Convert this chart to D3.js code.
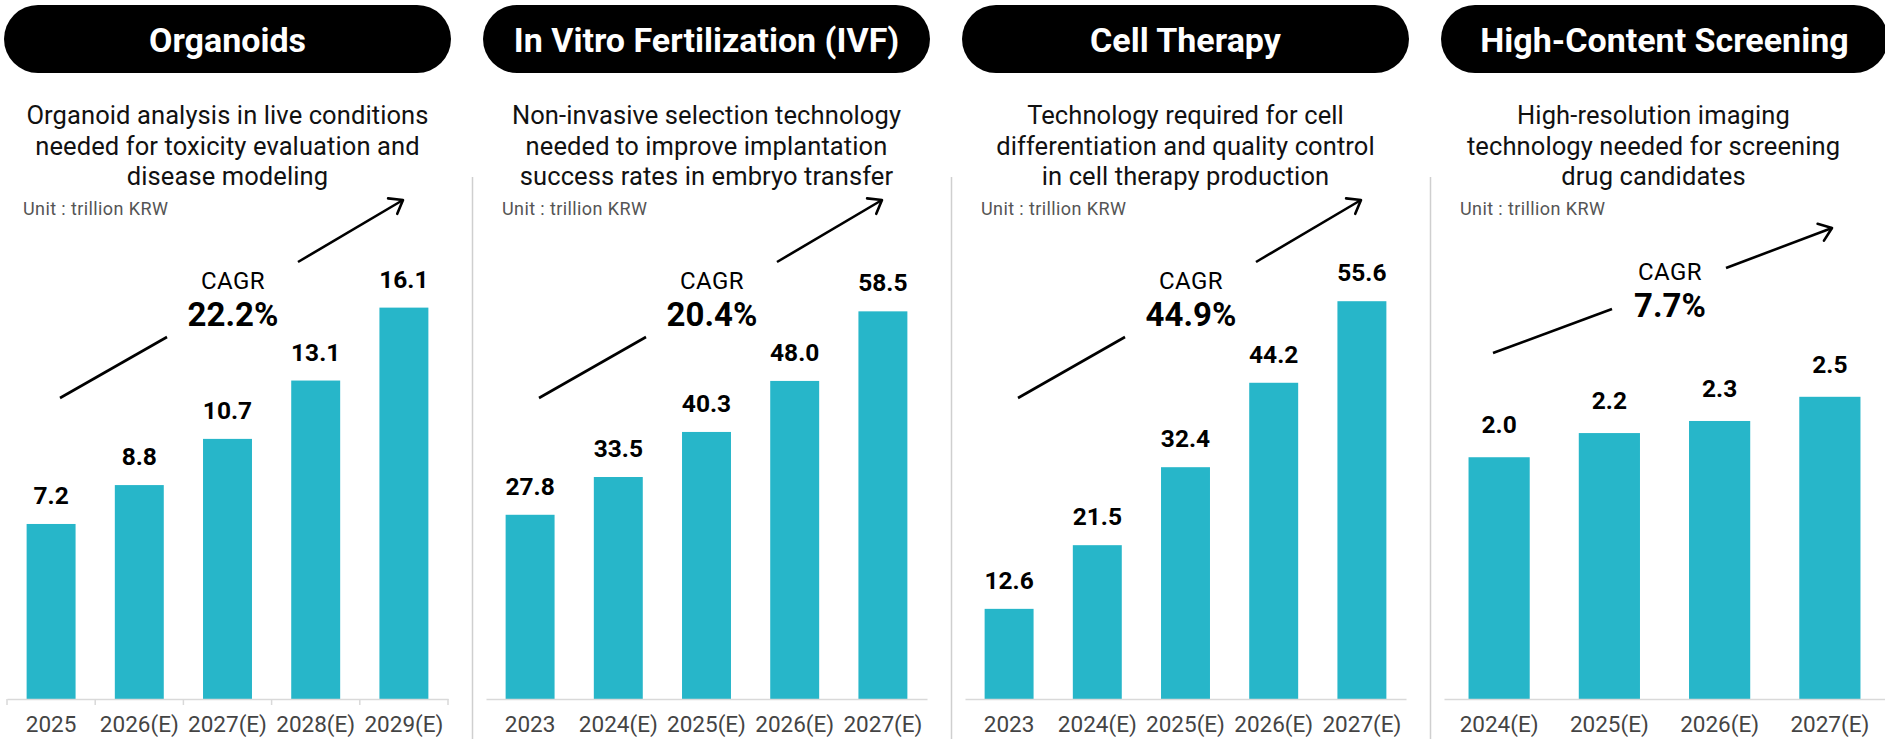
<!DOCTYPE html>
<html lang="en">
<head>
<meta charset="UTF-8">
<title>Market size by application</title>
<script src="https://d3js.org/d3.v7.min.js"></script>
<style>
    body {
        margin: 0;
        padding: 0;
        background: #fff;
        font-family: Roboto, "Noto Sans", Arial, sans-serif;
    }
    svg { display: block; }
</style>
</head>
<body>
<svg id="chart" width="1885" height="739"></svg>
<script>
// ---- data ----
const titles = ["Organoids", "In Vitro Fertilization (IVF)", "Cell Therapy", "High-Content Screening"];
const descriptions = [
    ["Organoid analysis in live conditions", "needed for toxicity evaluation and", "disease modeling"],
    ["Non-invasive selection technology", "needed to improve implantation", "success rates in embryo transfer"],
    ["Technology required for cell", "differentiation and quality control", "in cell therapy production"],
    ["High-resolution imaging", "technology needed for screening", "drug candidates"]
];
const unitLabel = "Unit : trillion KRW";
const cagrValues = ["22.2%", "20.4%", "44.9%", "7.7%"];

const organoidYears = ["2025", "2026(E)", "2027(E)", "2028(E)", "2029(E)"];
const organoidValues = [7.2, 8.8, 10.7, 13.1, 16.1];
const ivfYears = ["2023", "2024(E)", "2025(E)", "2026(E)", "2027(E)"];
const ivfValues = [27.8, 33.5, 40.3, 48.0, 58.5];
const cellYears = ["2023", "2024(E)", "2025(E)", "2026(E)", "2027(E)"];
const cellValues = [12.6, 21.5, 32.4, 44.2, 55.6];
const hcsYears = ["2024(E)", "2025(E)", "2026(E)", "2027(E)"];
const hcsValues = [2.0, 2.2, 2.3, 2.5];

// ---- layout ----
const svg = d3.select("#chart");
const panelW = 479;
const baseY = 699, topY = 259;
const barColor = "#27b6c9";

const panels = [
    { years: organoidYears, values: organoidValues, yMax: 18.1, ticks: true,  labelGap: 20,
      arrow: [[60, 398, 167, 337], [298, 262, 403, 200]], cagrY: 289, descDx: 0 },
    { years: ivfYears, values: ivfValues, yMax: 66.4, ticks: false, labelGap: 20,
      arrow: [[60, 398, 167, 337], [298, 262, 403, 200]], cagrY: 289, descDx: 0 },
    { years: cellYears, values: cellValues, yMax: 61.5, ticks: false, labelGap: 20,
      arrow: [[60, 398, 167, 337], [298, 262, 403, 200]], cagrY: 289, descDx: 0 },
    { years: hcsYears, values: hcsValues, yMax: 3.64, ticks: false, labelGap: 24,
      arrow: [[56, 353, 175, 309], [289, 268, 395, 228]], cagrY: 280, descDx: -11 }
];

// open arrow head
svg.append("defs").append("marker")
    .attr("id", "head")
    .attr("markerUnits", "userSpaceOnUse")
    .attr("viewBox", "-14 -12 16 24")
    .attr("refX", 0).attr("refY", 0)
    .attr("markerWidth", 16).attr("markerHeight", 24)
    .attr("orient", "auto")
    .append("path")
    .attr("d", "M-12,-9 L0,0 L-12,9")
    .attr("fill", "none")
    .attr("stroke", "#000")
    .attr("stroke-width", 2.6)
    .attr("stroke-linecap", "round")
    .attr("stroke-linejoin", "round");

panels.forEach((p, i) => {
    const ox = i * panelW;
    const g = svg.append("g").attr("transform", `translate(${ox},0)`);

    // separator
    if (i > 0) {
        g.append("line")
            .attr("x1", -6.5).attr("x2", -6.5)
            .attr("y1", 177).attr("y2", 739)
            .attr("stroke", "#cfcfcf").attr("stroke-width", 1.5);
    }

    // title pill
    g.append("rect")
        .attr("x", 4).attr("y", 5)
        .attr("width", 447).attr("height", 68)
        .attr("rx", 34)
        .attr("fill", "#000");
    g.append("text")
        .attr("x", 227.5).attr("y", 51.5)
        .attr("text-anchor", "middle")
        .attr("fill", "#fff")
        .style("font-size", "34px")
        .style("font-weight", "700")
        .text(titles[i]);

    // description
    g.append("text")
        .attr("text-anchor", "middle")
        .attr("fill", "#111")
        .style("font-size", "25.5px")
        .style("letter-spacing", "0.1px")
        .selectAll("tspan")
        .data(descriptions[i])
        .join("tspan")
        .attr("x", 227.5 + p.descDx)
        .attr("y", (d, j) => 124 + j * 30.5)
        .text(d => d);

    g.append("text")
        .attr("x", 23).attr("y", 215)
        .attr("fill", "#555")
        .style("font-size", "18px")
        .style("letter-spacing", "0.4px")
        .text(unitLabel);

    // scales
    const x = d3.scaleBand()
        .domain(p.years)
        .range([7, 448])
        .paddingInner(0.445)
        .paddingOuter(0.2225);
    const y = d3.scaleLinear()
        .domain([0, p.yMax])
        .range([baseY, topY]);

    // bars
    g.selectAll("rect.bar")
        .data(p.values)
        .join("rect")
        .attr("class", "bar")
        .attr("x", (d, j) => x(p.years[j]))
        .attr("y", d => y(d))
        .attr("width", x.bandwidth())
        .attr("height", d => baseY - y(d))
        .attr("fill", barColor);

    g.selectAll("text.val")
        .data(p.values)
        .join("text")
        .attr("class", "val")
        .attr("x", (d, j) => x(p.years[j]) + x.bandwidth() / 2)
        .attr("y", d => y(d) - p.labelGap)
        .attr("text-anchor", "middle")
        .attr("fill", "#000")
        .style("font-size", "24.5px")
        .style("font-weight", "700")
        .text(d => d.toFixed(1));

    // x axis
    const axis = g.append("g")
        .attr("transform", `translate(0,${baseY})`)
        .call(d3.axisBottom(x).tickSize(0).tickSizeOuter(0).tickPadding(17));
    axis.select(".domain").attr("stroke", "#d9d9d9").attr("stroke-width", 1.5);
    axis.selectAll("text")
        .attr("fill", "#444")
        .style("font-size", "22.5px")
        .style("font-family", "Roboto, 'Noto Sans', Arial, sans-serif");

    if (p.ticks) {
        const edges = d3.range(p.years.length + 1).map(k => x.range()[0] + k * x.step());
        axis.selectAll("line.edge")
            .data(edges)
            .join("line")
            .attr("class", "edge")
            .attr("x1", d => d).attr("x2", d => d)
            .attr("y1", 0).attr("y2", 6)
            .attr("stroke", "#d9d9d9").attr("stroke-width", 1.5);
    }

    // CAGR arrow
    p.arrow.forEach((s, k) => {
        g.append("line")
            .attr("x1", s[0]).attr("y1", s[1])
            .attr("x2", s[2]).attr("y2", s[3])
            .attr("stroke", "#000")
            .attr("stroke-width", 2.6)
            .attr("marker-end", k === 1 ? "url(#head)" : null);
    });
    g.append("text")
        .attr("x", 233).attr("y", p.cagrY)
        .attr("text-anchor", "middle")
        .attr("fill", "#000")
        .style("font-size", "24px")
        .style("letter-spacing", "0.4px")
        .text("CAGR");
    g.append("text")
        .attr("x", 233).attr("y", p.cagrY + 37)
        .attr("text-anchor", "middle")
        .attr("fill", "#000")
        .style("font-size", "33px")
        .style("font-weight", "700")
        .text(cagrValues[i]);
});
</script>
</body>
</html>
